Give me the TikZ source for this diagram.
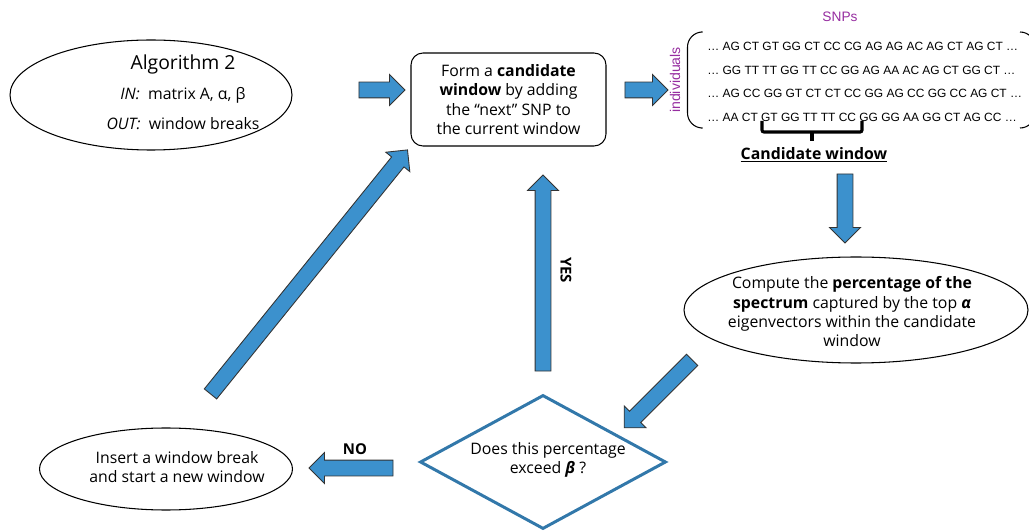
\documentclass[tikz,border=0pt]{standalone}
\usepackage{fontspec}
\setmainfont{Open Sans}
\newfontfamily\snpfont{Liberation Sans}
\usetikzlibrary{shapes.geometric}
\usetikzlibrary{shapes.arrows, calc}
\usetikzlibrary{positioning}

\definecolor{arrowblue}{RGB}{60,145,205}
\definecolor{diamondblue}{RGB}{50,120,170}
\definecolor{snppurple}{RGB}{150,45,160}

\tikzset{
  blockarr/.style={single arrow, draw=black!80, line width=0.5pt, fill=arrowblue, inner sep=0.15cm,
    single arrow head extend=0.15cm, single arrow tip angle=90, anchor=center},
  txt/.style={font=\fontsize{9}{11}\selectfont, align=center},
  snprow/.style={font=\snpfont\fontsize{6.8}{8}\selectfont, anchor=west, inner sep=0},
  bubble/.style={ellipse, draw, line width=0.6pt, inner sep=0}
}

% block arrow from one named coordinate to another
\newcommand{\blockarrow}[2]{%
  \path let \p1=($(#2)-(#1)$), \n1={veclen(\x1,\y1)}, \n2={atan2(\y1,\x1)} in
    node[blockarr, minimum height=\n1, rotate=\n2] at ($(#1)!0.5!(#2)$) {};}

\begin{document}
\begin{tikzpicture}
\useasboundingbox (0,0) rectangle (20.58,10.62);

% input ellipse
\node[bubble, minimum width=5.64cm, minimum height=2.2cm] (algo) at (3.02,8.72) {};
\node[font=\fontsize{9}{17}\selectfont, align=center] (algotext) at (3.66,8.78)
  {{\fontsize{11}{17}\selectfont Algorithm 2}\\ \textit{IN:}~ matrix A, α, β\\ \textit{OUT:}~ window breaks};

% candidate window box
\node[txt, draw, rounded corners=0.24cm, line width=0.6pt, minimum width=3.9cm, minimum height=1.86cm] (formwin) at (10.17,8.63)
  {Form a \textbf{candidate}\\ \textbf{window} by adding\\ the “next” SNP to\\ the current window};

% SNP matrix
\node[font=\snpfont\fontsize{7.8}{9}\selectfont, text=snppurple] (snps) at (16.8,10.28) {SNPs};
\node[font=\snpfont\fontsize{8}{9}\selectfont, text=snppurple, rotate=90] (indiv) at (13.50,9.02) {individuals};
\node[snprow] (row1) at (14.14,9.70) {… AG CT GT GG CT CC CG AG AG AC AG CT AG CT …};
\node[snprow] (row2) at (14.14,9.22) {… GG TT TT GG TT CC GG AG AA AC AG CT GG CT …};
\node[snprow] (row3) at (14.14,8.76) {… AG CC GG GT CT CT CC GG AG CC GG CC AG CT …};
\node[snprow] (row4) at (14.14,8.28) {… AA CT GT GG TT TT CC GG GG AA GG CT AG CC …};
\draw[line width=0.6pt, rounded corners=0.3cm] (14.02,9.98) -- (13.75,9.98) -- (13.75,8.06) -- (14.02,8.06);
\draw[line width=0.6pt, rounded corners=0.3cm] (20.40,9.98) -- (20.70,9.98) -- (20.70,8.06) -- (20.40,8.06);
\draw[line width=1.8pt, rounded corners=0.04cm] (15.24,8.20) -- (15.24,7.98) -- (17.24,7.98) -- (17.24,8.20);
\draw[line width=1.8pt] (16.24,7.98) -- (16.24,7.80);
\node[font=\fontsize{9}{11}\selectfont] (candlabel) at (16.28,7.52) {\underline{\textbf{Candidate window}}};

% spectrum ellipse
\node[bubble, minimum width=6.88cm, minimum height=2.12cm] (spectrum) at (17.12,4.42) {};
\node[txt] (spectext) at (17.04,4.38)
  {Compute the \textbf{percentage of the}\\ \textbf{spectrum} captured by the top \textbf{\textit{α}}\\ eigenvectors within the candidate\\ window};

% test diamond
\node[diamond, draw=diamondblue, line width=1.7pt, minimum width=4.92cm, minimum height=2.68cm, inner sep=0] (test) at (10.86,1.38) {};
\node[txt] (testtext) at (10.96,1.42) {Does this percentage\\ exceed \textbf{\textit{β}} ?};

% new window ellipse
\node[bubble, minimum width=5.06cm, minimum height=1.64cm] (newwin) at (3.32,1.24) {};
\node[txt] (newtext) at (3.54,1.28) {Insert a window break\\ and start a new window};

% arrows
\coordinate (a1s) at (7.10,8.82);  \coordinate (a1e) at (8.02,8.82);
\coordinate (a2s) at (12.42,8.82); \coordinate (a2e) at (13.28,8.82);
\coordinate (a3s) at (16.90,7.22); \coordinate (a3e) at (16.90,5.84);
\coordinate (a4s) at (13.90,3.48); \coordinate (a4e) at (12.54,2.12);
\coordinate (nos) at (7.94,1.26);  \coordinate (noe) at (6.26,1.26);
\coordinate (yess) at (10.86,3.12); \coordinate (yese) at (10.86,7.04);
\coordinate (backs) at (4.16,2.68); \coordinate (backe) at (8.10,7.56);
\blockarrow{a1s}{a1e}
\blockarrow{a2s}{a2e}
\blockarrow{a3s}{a3e}
\blockarrow{a4s}{a4e}
\blockarrow{nos}{noe}
\blockarrow{yess}{yese}
\blockarrow{backs}{backe}
\node[font=\fontsize{8.5}{10}\selectfont\bfseries] (nolabel) at (7.10,1.64) {NO};
\node[font=\fontsize{8.5}{10}\selectfont\bfseries, rotate=-90] (yeslabel) at (11.32,5.22) {YES};

\end{tikzpicture}
\end{document}
